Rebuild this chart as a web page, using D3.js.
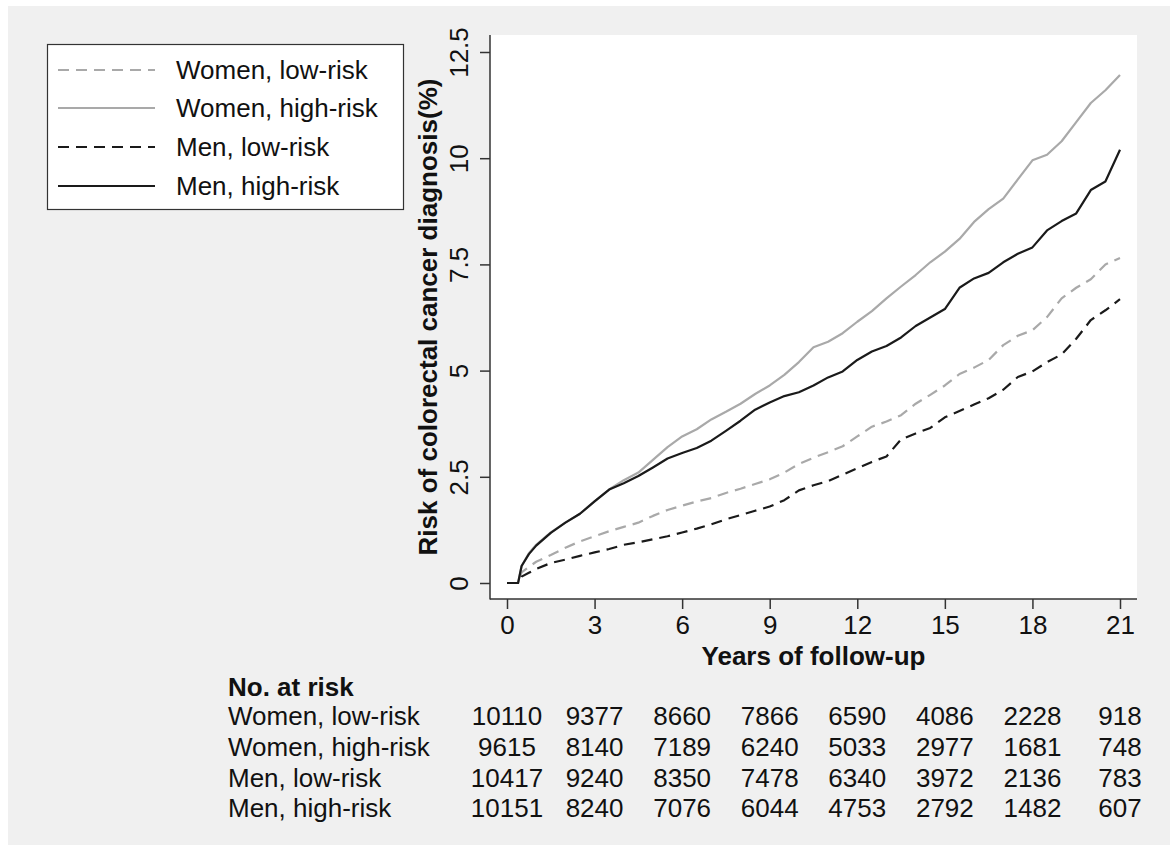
<!DOCTYPE html>
<html>
<head>
<meta charset="utf-8">
<script src="https://cdn.jsdelivr.net/npm/d3@7"></script>
<style>
  html, body { margin: 0; padding: 0; background: #ffffff; }
  svg { display: block; font-family: "Liberation Sans", Arial, Helvetica, sans-serif; }
</style>
</head>
<body>
<svg id="chart" width="1170" height="853"></svg>
<script>
// ---------------- DATA ----------------
const years = [0, 0.38, 0.5, 0.75, 1, 1.5, 2, 2.5, 3, 3.5, 4, 4.5, 5, 5.5, 6, 6.5, 7, 7.5, 8, 8.5, 9, 9.5, 10, 10.5, 11, 11.5, 12, 12.5, 13, 13.5, 14, 14.5, 15, 15.5, 16, 16.5, 17, 17.5, 18, 18.5, 19, 19.5, 20, 20.5, 21];

const womenLow  = [0, 0, 0.25, 0.38, 0.5, 0.66, 0.83, 0.98, 1.1, 1.22, 1.32, 1.42, 1.58, 1.72, 1.82, 1.92, 2.0, 2.12, 2.22, 2.33, 2.44, 2.6, 2.8, 2.95, 3.08, 3.22, 3.45, 3.68, 3.8, 3.95, 4.22, 4.43, 4.65, 4.92, 5.07, 5.25, 5.6, 5.82, 5.95, 6.26, 6.7, 6.95, 7.15, 7.5, 7.65];
const womenHigh = [0, 0, 0.4, 0.7, 0.9, 1.19, 1.42, 1.63, 1.92, 2.2, 2.42, 2.6, 2.9, 3.2, 3.45, 3.62, 3.85, 4.03, 4.22, 4.45, 4.65, 4.9, 5.2, 5.55, 5.68, 5.88, 6.15, 6.4, 6.7, 6.98, 7.25, 7.55, 7.8, 8.1, 8.5, 8.8, 9.05, 9.5, 9.95, 10.08, 10.4, 10.85, 11.3, 11.6, 11.96];
const menLow    = [0, 0, 0.15, 0.24, 0.33, 0.47, 0.55, 0.64, 0.72, 0.8, 0.9, 0.96, 1.03, 1.1, 1.19, 1.28, 1.38, 1.5, 1.6, 1.7, 1.8, 1.95, 2.18, 2.3, 2.4, 2.55, 2.7, 2.85, 2.98, 3.38, 3.52, 3.65, 3.9, 4.05, 4.2, 4.35, 4.55, 4.85, 4.98, 5.2, 5.38, 5.75, 6.19, 6.42, 6.68];
const menHigh   = [0, 0, 0.4, 0.68, 0.88, 1.18, 1.42, 1.63, 1.92, 2.2, 2.35, 2.52, 2.72, 2.93, 3.06, 3.18, 3.35, 3.58, 3.82, 4.08, 4.25, 4.4, 4.49, 4.65, 4.84, 4.98, 5.25, 5.45, 5.58, 5.78, 6.05, 6.25, 6.45, 6.95, 7.17, 7.3, 7.55, 7.75, 7.9, 8.3, 8.52, 8.7, 9.25, 9.45, 10.2];

const seriesNames = ["Women, low-risk", "Women, high-risk", "Men, low-risk", "Men, high-risk"];

const xTicks = [0, 3, 6, 9, 12, 15, 18, 21];
const yTicks = [0, 2.5, 5, 7.5, 10, 12.5];
const yTickLabels = ["0", "2.5", "5", "7.5", "10", "12.5"];

const atRiskWomenLow  = [10110, 9377, 8660, 7866, 6590, 4086, 2228, 918];
const atRiskWomenHigh = [9615, 8140, 7189, 6240, 5033, 2977, 1681, 748];
const atRiskMenLow    = [10417, 9240, 8350, 7478, 6340, 3972, 2136, 783];
const atRiskMenHigh   = [10151, 8240, 7076, 6044, 4753, 2792, 1482, 607];

const xTitle = "Years of follow-up";
const yTitle = "Risk of colorectal cancer diagnosis(%)";
const tableTitle = "No. at risk";

// ---------------- STYLES ----------------
const seriesValues = [womenLow, womenHigh, menLow, menHigh];
const atRisk = [atRiskWomenLow, atRiskWomenHigh, atRiskMenLow, atRiskMenHigh];
const colors = ["#a9a9a9", "#a9a9a9", "#1a1a1a", "#1a1a1a"];
const dashes = ["11,7", null, "11,7", null];
const FS = 26;

const svg = d3.select("#chart");

// background
svg.append("rect").attr("x", 0).attr("y", 0).attr("width", 1170).attr("height", 853).attr("fill", "#ffffff");
svg.append("rect").attr("x", 8).attr("y", 6).attr("width", 1162).attr("height", 839).attr("fill", "#f0f0f0");

// plot frame
const plot = { left: 490, right: 1137, top: 35, bottom: 599 };
svg.append("rect")
  .attr("x", plot.left).attr("y", plot.top)
  .attr("width", plot.right - plot.left).attr("height", plot.bottom - plot.top)
  .attr("fill", "#ffffff");

const x = d3.scaleLinear().domain([0, 21]).range([507, 1120]);
const y = d3.scaleLinear().domain([0, 12.5]).range([583, 52]);

// axes
const axisColor = "#333333";
const yAxis = svg.append("g").attr("transform", `translate(${plot.left},0)`)
  .call(d3.axisLeft(y).tickValues(yTicks).tickSize(10).tickPadding(0).tickFormat((d, i) => yTickLabels[i]));
yAxis.select(".domain").remove();
yAxis.selectAll(".tick line").attr("stroke", axisColor).attr("stroke-width", 1.5);
yAxis.selectAll(".tick text")
  .attr("x", 0).attr("dy", 0)
  .attr("transform", "translate(-22,0) rotate(-90)")
  .attr("text-anchor", "middle")
  .attr("fill", "#111")
  .style("font-size", FS + "px")
  .style("font-family", "Liberation Sans, Arial, sans-serif");

const xAxis = svg.append("g").attr("transform", `translate(0,${plot.bottom})`)
  .call(d3.axisBottom(x).tickValues(xTicks).tickSize(10).tickPadding(7));
xAxis.select(".domain").remove();
xAxis.selectAll(".tick line").attr("stroke", axisColor).attr("stroke-width", 1.5);
xAxis.selectAll(".tick text")
  .attr("fill", "#111")
  .style("font-size", FS + "px")
  .style("font-family", "Liberation Sans, Arial, sans-serif");

svg.append("line").attr("x1", plot.left).attr("x2", plot.left).attr("y1", plot.top).attr("y2", plot.bottom + 0.5)
  .attr("stroke", axisColor).attr("stroke-width", 1.5);
svg.append("line").attr("x1", plot.left).attr("x2", plot.right).attr("y1", plot.bottom).attr("y2", plot.bottom)
  .attr("stroke", axisColor).attr("stroke-width", 1.5);

// axis titles
svg.append("text")
  .attr("x", (plot.left + plot.right) / 2).attr("y", 665)
  .attr("text-anchor", "middle").attr("font-weight", "bold")
  .style("font-size", FS + "px").attr("fill", "#111")
  .text(xTitle);
svg.append("text")
  .attr("transform", `translate(437,${(plot.top + plot.bottom) / 2}) rotate(-90)`)
  .attr("text-anchor", "middle").attr("font-weight", "bold")
  .style("font-size", FS + "px").attr("fill", "#111")
  .text(yTitle);

// curves
const line = d3.line().x((d, i) => x(years[i])).y(d => y(d)).curve(d3.curveLinear);
seriesValues.forEach((vals, k) => {
  svg.append("path")
    .datum(vals)
    .attr("d", line)
    .attr("fill", "none")
    .attr("stroke", colors[k])
    .attr("stroke-width", 2.2)
    .attr("stroke-dasharray", dashes[k])
    .attr("stroke-linejoin", "round");
});

// legend
const legend = svg.append("g");
legend.append("rect").attr("x", 47.5).attr("y", 44.5).attr("width", 356).attr("height", 165)
  .attr("fill", "#ffffff").attr("stroke", "#333").attr("stroke-width", 1.2);
const legendRows = [70, 108, 147, 186];
seriesNames.forEach((name, k) => {
  legend.append("line").attr("x1", 58).attr("x2", 155).attr("y1", legendRows[k]).attr("y2", legendRows[k])
    .attr("stroke", colors[k]).attr("stroke-width", 2.2).attr("stroke-dasharray", dashes[k]);
  legend.append("text").attr("x", 176).attr("y", legendRows[k] + 9)
    .style("font-size", FS + "px").attr("fill", "#111").text(name);
});

// risk table
svg.append("text").attr("x", 228).attr("y", 696).attr("font-weight", "bold")
  .style("font-size", FS + "px").attr("fill", "#111").text(tableTitle);
const rowBase = [725, 756, 787, 817];
seriesNames.forEach((name, k) => {
  svg.append("text").attr("x", 228).attr("y", rowBase[k])
    .style("font-size", FS + "px").attr("fill", "#111").text(name);
  svg.append("g").selectAll("text").data(atRisk[k]).join("text")
    .attr("x", (d, i) => x(xTicks[i])).attr("y", rowBase[k])
    .attr("text-anchor", "middle")
    .style("font-size", FS + "px").attr("fill", "#111")
    .text(d => d);
});
</script>
</body>
</html>
